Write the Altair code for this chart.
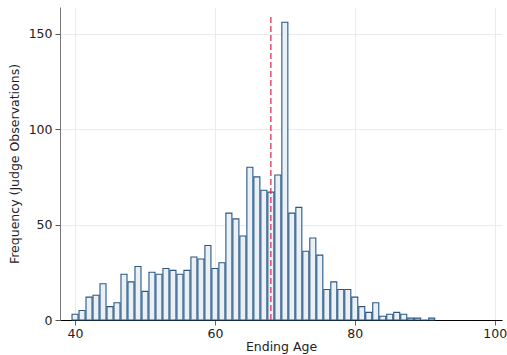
import altair as alt
import pandas as pd

ages = list(range(40, 92))
counts = [3, 5, 12, 13, 19, 7, 9, 24, 20, 28,
          15, 25, 24, 27, 26, 24, 26, 33, 32, 39,
          27, 30, 56, 53, 44, 80, 75, 68, 67, 76,
          156, 56, 59, 36, 43, 34, 16, 20, 16, 16,
          12, 7, 4, 9, 2, 3, 4, 3, 1, 1,
          0, 1]
mean_age = [68.0]

x_ticks = [40, 60, 80, 100]
y_ticks = [0, 50, 100, 150]

df = pd.DataFrame({"age": ages, "count": counts})
mean_df = pd.DataFrame({"mean": mean_age})

FONT = "DejaVu Sans"
FS = 12.5
xscale = alt.Scale(domain=[37.85, 101.05], nice=False, zero=False)
yscale = alt.Scale(domain=[0, 164], nice=False)

bars = alt.Chart(df).transform_calculate(
    x0="datum.age - 0.43", x1="datum.age + 0.43"
).mark_rect(
    fill="#e9f1f6", stroke="#2b5782", strokeWidth=1.1
).encode(
    x=alt.X("x0:Q", scale=xscale, title="Ending Age",
            axis=alt.Axis(values=x_ticks, format="d", grid=True, gridColor="#ebebeb",
                          domainColor="#000000", tickColor="#666666", tickSize=5,
                          labelFontSize=FS, titleFontSize=FS, labelFont=FONT, titleFont=FONT,
                          labelColor="#222222", titleColor="#222222", titleFontWeight="normal",
                          labelPadding=2, titlePadding=1)),
    x2="x1:Q",
    y=alt.Y("count:Q", scale=yscale, title="Frequency (Judge Observations)",
            axis=alt.Axis(values=y_ticks, grid=True, gridColor="#ebebeb",
                          domainColor="#777777", tickColor="#555555", tickSize=5,
                          labelFontSize=FS, titleFontSize=FS, labelFont=FONT, titleFont=FONT,
                          labelColor="#222222", titleColor="#222222", titleFontWeight="normal",
                          labelPadding=3, titlePadding=7)),
    y2=alt.datum(0),
)

rule = alt.Chart(mean_df).mark_rule(
    color="#e0305c", strokeDash=[6, 3], strokeWidth=1.3
).encode(
    x=alt.X("mean:Q", scale=xscale),
    y=alt.value(10),
    y2=alt.value(313),
)

chart = alt.layer(bars, rule).properties(
    width=442, height=313,
    autosize=alt.AutoSizeParams(type="none"),
    padding={"left": 60, "top": 7, "right": 5, "bottom": 35},
).configure_view(stroke=None)

chart.save("out.html", embed_options={"renderer": "svg", "actions": False})
